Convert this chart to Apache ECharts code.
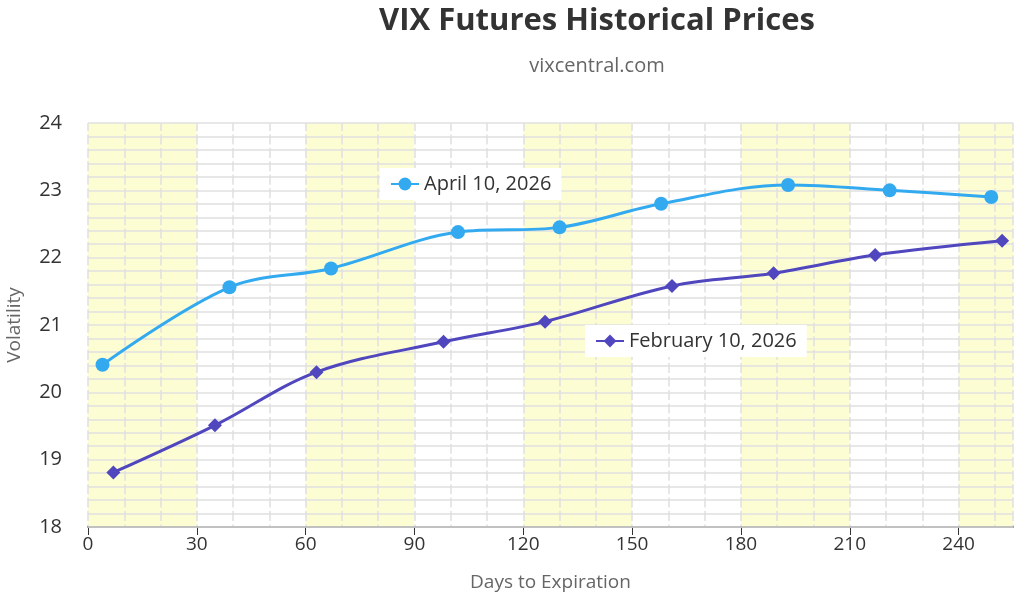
<html>
    <head>
        <meta charset="utf-8">
        <style>
            html, body { margin: 0; padding: 0; background: #fff; }
            #main { width: 1033px; height: 603px; }
        </style>
    </head>
    <body>
        <div id="main"></div>
        <script src="https://cdn.jsdelivr.net/npm/echarts@6/dist/echarts.min.js"></script>
        <script>
            // days to expiration / settle price
            var aprilDays = [4, 39, 67, 102, 130, 158, 193, 221, 249];
            var aprilPrices = [20.41, 21.56, 21.84, 22.38, 22.45, 22.80, 23.08, 23.00, 22.90];
            var febDays = [7, 35, 63, 98, 126, 161, 189, 217, 252];
            var febPrices = [18.81, 19.51, 20.30, 20.75, 21.05, 21.58, 21.77, 22.04, 22.25];
            var seriesNames = ['April 10, 2026', 'February 10, 2026'];

            function pairs(xs, ys) {
                return xs.map(function (x, i) { return [x, ys[i]]; });
            }

            var font = '"Open Sans", "Noto Sans", sans-serif';
            var gridColor = '#e0e0e0';
            // vertical grid lines are broken into short pieces in the original
            var vLine = { color: gridColor, width: 1.5, type: [10, 3.45], dashOffset: 2 };

            var chart = echarts.init(document.getElementById('main'));
            chart.setOption({
                animation: false,
                textStyle: { fontFamily: font },
                title: {
                    text: 'VIX Futures Historical Prices',
                    subtext: 'vixcentral.com',
                    left: 592,
                    top: 1,
                    textAlign: 'center',
                    itemGap: 19,
                    textStyle: { fontSize: 31, fontWeight: 'bold', color: '#333', fontFamily: font },
                    subtextStyle: { fontSize: 20, color: '#666', fontFamily: font }
                },
                grid: { left: 88, right: 20, top: 123, bottom: 76, outerBoundsMode: 'none' },
                legend: [{
                    data: [seriesNames[0]],
                    left: 380, top: 168,
                    backgroundColor: '#fff',
                    padding: [6, 10],
                    itemWidth: 28, itemHeight: 16,
                    itemGap: 8,
                    textStyle: { fontSize: 20, color: '#333' }
                }, {
                    data: [seriesNames[1]],
                    left: 585, top: 325,
                    backgroundColor: '#fff',
                    padding: [6, 10],
                    itemWidth: 28, itemHeight: 16,
                    textStyle: { fontSize: 20, color: '#333' }
                }],
                xAxis: {
                    type: 'value',
                    z: 0,
                    min: 0, max: 255, interval: 30,
                    name: 'Days to Expiration',
                    nameLocation: 'middle',
                    nameGap: 46,
                    nameTextStyle: { fontSize: 19, color: '#666' },
                    axisLine: { lineStyle: { color: '#333', width: 1.5 } },
                    axisTick: { show: true, length: 8, lineStyle: { color: '#333' } },
                    axisLabel: { fontSize: 19, color: '#333', margin: 8, showMaxLabel: false },
                    splitLine: { show: true, lineStyle: vLine },
                    minorTick: { show: false, splitNumber: 3 },
                    minorSplitLine: { show: true, lineStyle: vLine },
                    splitArea: { show: true, areaStyle: { color: ['#fdfdd4', '#ffffff'] } }
                },
                yAxis: {
                    type: 'value',
                    z: 1,
                    min: 18, max: 24, interval: 1,
                    name: 'Volatility',
                    nameLocation: 'middle',
                    nameGap: 64,
                    nameTextStyle: { fontSize: 19, color: '#666' },
                    axisLine: { show: false },
                    axisTick: { show: false },
                    axisLabel: { fontSize: 20, color: '#333', margin: 26 },
                    splitLine: { show: true, lineStyle: { color: gridColor, width: 1.5 } },
                    minorTick: { show: false, splitNumber: 5 },
                    minorSplitLine: { show: true, lineStyle: { color: gridColor, width: 1.5 } }
                },
                series: [{
                    name: seriesNames[0],
                    type: 'line',
                    z: 3,
                    smooth: 0.35,
                    symbol: 'circle',
                    symbolSize: 14,
                    color: '#33aaf0',
                    lineStyle: { width: 3 },
                    data: pairs(aprilDays, aprilPrices)
                }, {
                    name: seriesNames[1],
                    type: 'line',
                    z: 3,
                    smooth: 0.35,
                    symbol: 'diamond',
                    symbolSize: 14,
                    color: '#5046be',
                    lineStyle: { width: 3 },
                    data: pairs(febDays, febPrices)
                }]
            });
        </script>
    </body>
</html>
